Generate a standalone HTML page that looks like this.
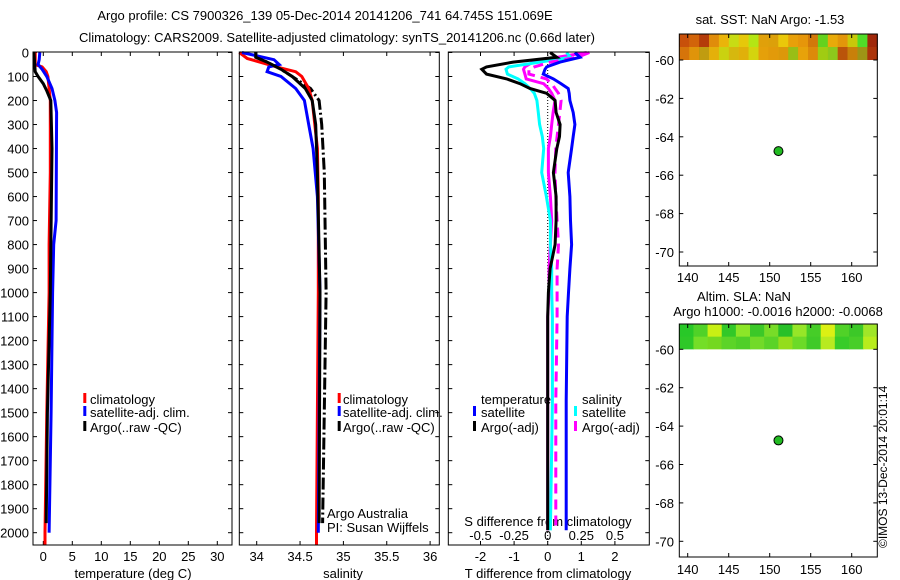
<!DOCTYPE html>
<html><head><meta charset="utf-8">
<style>
html,body{margin:0;padding:0;background:#fff;}
svg{display:block;font-family:"Liberation Sans",sans-serif;}
text{font-size:13px;fill:#000;}
</style></head>
<body>
<svg id="c" width="900" height="580" viewBox="0 0 900 580">
<text x="325" y="20" text-anchor="middle">Argo profile: CS 7900326_139 05-Dec-2014 20141206_741 64.745S 151.069E</text>
<text x="337" y="42" text-anchor="middle">Climatology: CARS2009. Satellite-adjusted climatology: synTS_20141206.nc (0.66d later)</text>
<text x="770" y="24" text-anchor="middle">sat. SST: NaN Argo: -1.53</text>
<text x="744" y="301" text-anchor="middle">Altim. SLA: NaN</text>
<text x="778" y="316" text-anchor="middle">Argo h1000: -0.0016 h2000: -0.0068</text>
<text transform="translate(887,548) rotate(-90)" style="font-size:12px">©IMOS 13-Dec-2014 20:01:14</text>
</svg>
<script>
// ---- data ----
const tDepth = [0,30,50,60,80,100,150,200,500,800,1000,1500,2000,2050];
const tClim  = [-1.4,-1.4,-1.4,-0.2,0.5,0.8,1.0,1.2,1.2,1.0,1.0,0.6,0.3,0.3];
const tSatDepth = [0,30,50,70,100,150,200,250,700,800,1000,1500,2000];
const tSat   = [-0.6,-0.7,-0.9,-0.2,0.6,1.5,2.0,2.3,2.2,1.8,1.6,1.35,1.0];
const tArgoDepth = [0,80,100,130,160,200,400,1000,1500,1960];
const tArgo  = [-1.6,-1.4,-0.9,0.0,0.6,1.3,1.5,1.2,0.7,0.5];

const sClimDepth = [0,25,60,80,100,150,200,400,600,1000,1500,2000,2050];
const sClim  = [33.8,33.89,34.23,34.45,34.52,34.60,34.64,34.70,34.71,34.71,34.70,34.69,34.69];
const sSatDepth = [0,30,50,60,80,100,150,200,300,400,600,1000,2000];
const sSat   = [33.83,34.2,34.26,34.14,34.12,34.28,34.45,34.55,34.60,34.65,34.70,34.73,34.71];
const sArgoDepth = [0,20,40,70,100,150,200,300,500,1000,1960];
const sArgo  = [33.99,33.99,34.12,34.28,34.41,34.56,34.64,34.68,34.70,34.73,34.72];
const sRaw   = [33.99,33.99,34.12,34.28,34.41,34.62,34.72,34.75,34.78,34.80,34.76];

const dDepth = [0,20,40,60,70,90,110,130,150,170,200,250,300,350,400,500,600,700,800,900,1000,1100,1450,1990];
const dTArgo = [0.07,0.27,-1.03,-1.82,-1.96,-1.82,-1.22,-0.82,-0.53,-0.03,0.22,0.25,0.37,0.35,0.27,0.17,0.25,0.25,0.22,0.07,0.02,0.0,0.0,0.0];
const dTSat  = [0.81,0.96,0.37,-0.03,-0.08,-0.13,0.17,0.40,0.61,0.64,0.66,0.76,0.81,0.76,0.71,0.61,0.66,0.68,0.71,0.66,0.62,0.58,0.55,0.55];
const dSSat  = [0.14,0.17,-0.06,-0.29,-0.31,-0.30,-0.22,-0.17,-0.13,-0.10,-0.08,-0.07,-0.06,-0.04,-0.03,-0.045,-0.01,0.02,0.02,0.03,0.03,0.035,0.035,0.02];
const dSArgo = [0.29,0.07,-0.11,-0.17,-0.18,-0.17,-0.16,-0.03,0.005,0.03,0.054,0.04,0.03,0.02,0.005,0.005,0.02,0.03,0.02,0.01,0.01,0.0,0.0,0.0];
const dSRaw  = [0.31,0.22,0.02,-0.10,-0.14,-0.14,-0.01,0.03,0.054,0.08,0.10,0.09,0.08,0.07,0.06,0.054,0.06,0.07,0.08,0.07,0.07,0.07,0.06,0.06];

const depthTicks = [0,100,200,300,400,500,600,700,800,900,1000,1100,1200,1300,1400,1500,1600,1700,1800,1900,2000];
const tTicks = [0,5,10,15,20,25,30];
const sTicks = [34,34.5,35,35.5,36];
const dTTicks = [-2,-1,0,1,2];
const dSTicks = [-0.5,-0.25,0,0.25,0.5];
const latTicks = [-60,-62,-64,-66,-68,-70];
const lonTicks = [140,145,150,155,160];
const floatLon = 151.069, floatLat = -64.745;
const sstColors = ["#c8500a","#d2640a","#b43c0a","#e08c0a","#eab40a","#c8dc14","#e6c80a","#b4e614","#e0a00a","#dca00a","#eac80a","#e8a00a","#e6960a","#d2780a","#64d21e","#e8aa0a","#e2960a","#c8c80a","#50dc28","#a0280a"];
const slaColors = ["#28c828","#50d228","#c8f014","#32c828","#8ce628","#3cc828","#78dc28","#28c028","#96e628","#46cd28","#dcf014","#50d228","#3cc828","#a0e628"];

// ---- helpers ----
const svg = document.getElementById('c');
const NS = 'http://www.w3.org/2000/svg';
function mk(tag, attrs, parent){const e=document.createElementNS(NS,tag);for(const k in attrs)e.setAttribute(k,attrs[k]);(parent||svg).appendChild(e);return e;}
const y0=52.5, yk=0.2401;
const yD = d => y0 + d*yk;
const xT = v => 43.3 + v*5.8;
const xS = v => 256.7 + (v-34)*86.7;
const xDT = v => 547.7 + v*33.6;
const xDS = v => 547.7 + v*134.4;
const xLon = v => 687.7 + (v-140)*8.2;
const yLat1 = v => 60 + (-60 - v)*19.2;
const yLat2 = v => 349.3 + (-60 - v)*19.2;

function line(xs, ds, fx, color, w, dash, name){
  let p='';
  for(let i=0;i<xs.length;i++){p+=(i?'L':'M')+fx(xs[i]).toFixed(1)+' '+yD(ds[i]).toFixed(1);}
  const e=mk('path',{d:p,fill:'none',stroke:color,'stroke-width':w});
  if(dash) e.setAttribute('stroke-dasharray',dash);
  
  
  return e;
}
function frame(x1,y1,x2,y2,name){
  const r=mk('rect',{x:x1,y:y1,width:x2-x1,height:y2-y1,fill:'none',stroke:'#000','stroke-width':1});
  
  
}
function txt(x,y,s,anchor,name){
  const t=mk('text',{x:x,y:y,'text-anchor':anchor||'start'});t.textContent=s;
  
  
  return t;
}
function legendMark(x,y,color,name){
  const r=mk('rect',{x:x,y:y-10,width:3,height:10,fill:color});
  
  
}

// ---- panels ----
const panels=[[33,239.3-5,'temperature-panel'],[239.3,439.3,'salinity-panel'],[448.3,649.3,'difference-panel']];
panels[0][1]=232;
// depth ticks
depthTicks.forEach(d=>{
  const y=yD(d);
  txt(29,y+5,String(d),'end','depth-tick-label');
  panels.forEach(p=>{mk('line',{x1:p[0],y1:y,x2:p[0]+4,y2:y,stroke:'#000'});mk('line',{x1:p[1]-4,y1:y,x2:p[1],y2:y,stroke:'#000'});});
});
// temperature
tTicks.forEach(v=>{const x=xT(v);mk('line',{x1:x,y1:545,x2:x,y2:541,stroke:'#000'});mk('line',{x1:x,y1:52,x2:x,y2:56,stroke:'#000'});txt(x,561,String(v),'middle','temperature-tick-label');});
txt(133,578,'temperature (deg C)','middle','temperature-axis-title');
line(tClim,tDepth,xT,'#ff0000',3,null,'temp-climatology-line');
line(tSat,tSatDepth,xT,'#0000ff',3,null,'temp-satellite-line');
line(tArgo,tArgoDepth,xT,'#000',3,null,'temp-argo-line');
// salinity
sTicks.forEach(v=>{const x=xS(v);mk('line',{x1:x,y1:545,x2:x,y2:541,stroke:'#000'});mk('line',{x1:x,y1:52,x2:x,y2:56,stroke:'#000'});txt(x,561,String(v),'middle','salinity-tick-label');});
txt(343,578,'salinity','middle','salinity-axis-title');
line(sRaw,sArgoDepth,xS,'#000',3,'12 3 2 3','salinity-argo-raw-line');
line(sClim,sClimDepth,xS,'#ff0000',3,null,'salinity-climatology-line');
line(sSat,sSatDepth,xS,'#0000ff',3,null,'salinity-satellite-line');
line(sArgo,sArgoDepth,xS,'#000',3,null,'salinity-argo-line');
txt(327,518,'Argo Australia','start','credit-argo-australia');
txt(327,532,'PI: Susan Wijffels','start','credit-pi');
// differences
dTTicks.forEach(v=>{const x=xDT(v);mk('line',{x1:x,y1:545,x2:x,y2:541,stroke:'#000'});mk('line',{x1:x,y1:52,x2:x,y2:56,stroke:'#000'});txt(x,561,String(v),'middle','t-diff-tick-label');});
dSTicks.forEach(v=>{txt(xDS(v),540,String(v),'middle','s-diff-tick-label');});
txt(548,526,'S difference from climatology','middle','s-diff-axis-title');
txt(548,578,'T difference from climatology','middle','t-diff-axis-title');
const zl=mk('line',{x1:xDT(0),y1:52,x2:xDT(0),y2:545,stroke:'#000','stroke-dasharray':'1 2'});

line(dSArgo,dDepth,xDS,'#ff00ff',3,null,'s-diff-argo-line');
line(dSSat,dDepth,xDS,'#00ffff',3,null,'s-diff-satellite-line');
line(dSRaw,dDepth,xDS,'#ff00ff',3,'10 6','s-diff-argo-raw-line');
line(dTSat,dDepth,xDT,'#0000ff',3,null,'t-diff-satellite-line');
line(dTArgo,dDepth,xDT,'#000',3,null,'t-diff-argo-line');
panels.forEach(p=>frame(p[0],52,p[1],545,p[2]));

// legends
[[83.3,90,'temperature'],[337.7,343,'salinity']].forEach(L=>{
  legendMark(L[0],403,'#ff0000','legend-climatology-marker');txt(L[1],404,'climatology','start','legend-climatology');
  legendMark(L[0],416,'#0000ff','legend-satellite-marker');txt(L[1],417,'satellite-adj. clim.','start','legend-satellite');
  legendMark(L[0],431,'#000','legend-argo-marker');txt(L[1],432,'Argo(..raw -QC)','start','legend-argo');
});
txt(481,404,'temperature','start','legend-temperature-heading');
legendMark(473,416,'#0000ff','legend-t-satellite-marker');txt(481,417,'satellite','start','legend-t-satellite');
legendMark(473,431,'#000','legend-t-argo-marker');txt(481,432,'Argo(-adj)','start','legend-t-argo');
txt(582,404,'salinity','start','legend-salinity-heading');
legendMark(574,416,'#00ffff','legend-s-satellite-marker');txt(582,417,'satellite','start','legend-s-satellite');
legendMark(574,431,'#ff00ff','legend-s-argo-marker');txt(582,432,'Argo(-adj)','start','legend-s-argo');

// maps
function map(top,bottom,yLat,colors,name){
  const left=679.3,right=877.3, bandBottom=yLat(-60);
  const n=colors.length, w=(right-left)/n;
  colors.forEach((c,i)=>{
    const r=mk('rect',{x:left+i*w,y:top,width:w+0.5,height:bandBottom-top,fill:c});
    
    
    const r2=mk('rect',{x:left+i*w,y:top+(bandBottom-top)*0.5,width:w+0.5,height:(bandBottom-top)*0.5,fill:colors[(i+3)%n],opacity:0.6});
    
    
  });
  latTicks.forEach(v=>{const y=yLat(v);mk('line',{x1:left,y1:y,x2:left+4,y2:y,stroke:'#000'});mk('line',{x1:right-4,y1:y,x2:right,y2:y,stroke:'#000'});txt(674,y+5,String(v),'end',name+'-lat-label');});
  lonTicks.forEach(v=>{const x=xLon(v);mk('line',{x1:x,y1:top,x2:x,y2:top+4,stroke:'#000'});mk('line',{x1:x,y1:bottom-4,x2:x,y2:bottom,stroke:'#000'});});
  const c=mk('circle',{cx:xLon(floatLon),cy:yLat(floatLat),r:4.5,fill:'#22bb22',stroke:'#000','stroke-width':1});
  
  
  frame(left,top,right,bottom,name);
}
map(34,266,yLat1,sstColors,'sst-map');
map(324,557,yLat2,slaColors,'sla-map');
lonTicks.forEach(v=>{txt(xLon(v),282,String(v),'middle','sst-map-lon-label');txt(xLon(v),574,String(v),'middle','sla-map-lon-label');});
</script>
</body></html>
